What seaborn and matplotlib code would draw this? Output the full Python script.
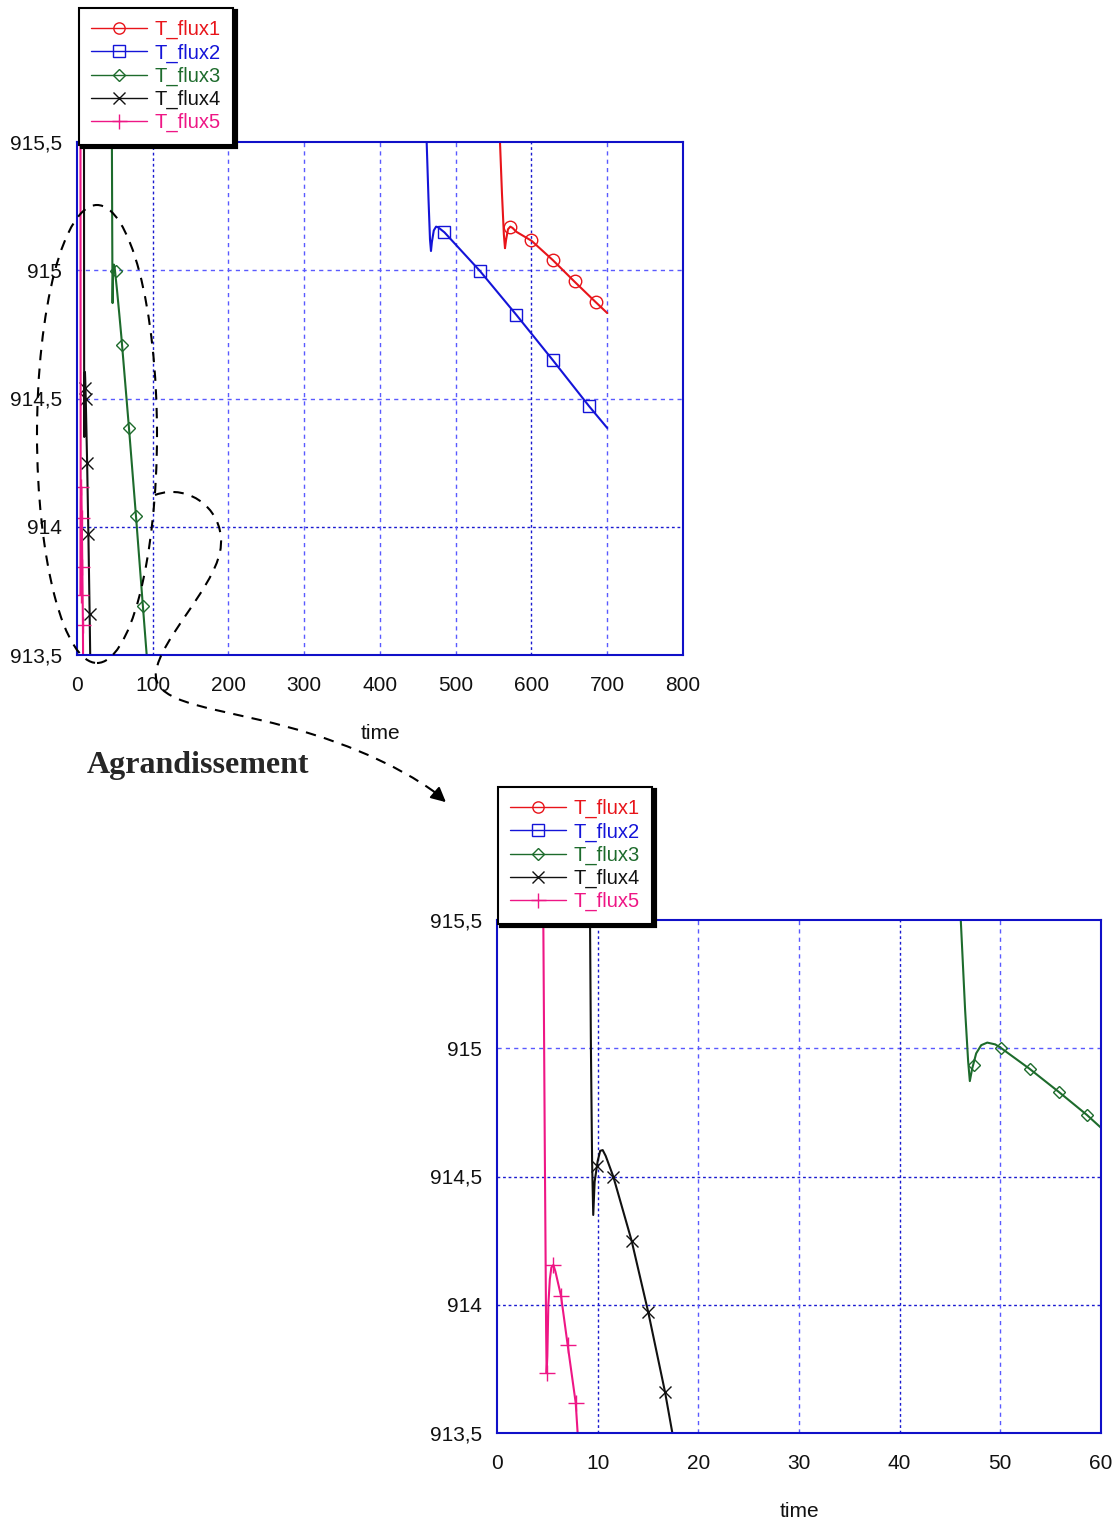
import matplotlib
matplotlib.use("Agg")
import matplotlib.pyplot as plt
import seaborn as sns
from matplotlib.lines import Line2D
from matplotlib.patches import Ellipse, PathPatch, FancyArrowPatch
from matplotlib.path import Path

# ---------------- data ----------------
labels = ["T_flux1", "T_flux2", "T_flux3", "T_flux4", "T_flux5"]
colors = ["#e8141a", "#1414d8", "#1d6b2c", "#111111", "#ee1685"]
marker_styles = ["o", "s", "D", "x", "+"]

# curves (time, temperature)
t1 = [558.0, 558.4, 561.0, 563.5, 565.0, 566.5, 569.0, 572.0, 575.0, 580.0, 600.0, 628.0, 657.0, 685.0, 700.0]
y1 = [915.6, 915.5, 915.3, 915.14, 915.086, 915.12, 915.16, 915.17, 915.165, 915.15, 915.115, 915.04, 914.955, 914.875, 914.833]

t2 = [461.3, 461.6, 464.0, 466.0, 467.3, 468.5, 471.0, 474.0, 476.5, 485.0, 532.0, 580.0, 628.0, 676.0, 700.0]
y2 = [915.6, 915.5, 915.28, 915.12, 915.075, 915.11, 915.155, 915.17, 915.168, 915.148, 914.997, 914.826, 914.65, 914.47, 914.385]

t3 = [46.0, 46.07, 46.5, 46.8, 46.97, 47.2, 47.6, 48.1, 48.7, 49.5, 50.1, 52.9, 55.8, 58.6, 60.0, 68.6, 77.9, 87.0, 92.0]
y3 = [915.6, 915.5, 915.15, 914.95, 914.872, 914.92, 914.98, 915.012, 915.022, 915.015, 915.0, 914.92, 914.83, 914.74, 914.69, 914.385, 914.04, 913.69, 913.5]

t4 = [9.2, 9.24, 9.33, 9.45, 9.56, 9.7, 10.0, 10.25, 10.5, 10.8, 11.55, 13.37, 15.03, 16.69, 17.42]
y4 = [915.6, 915.5, 915.0, 914.55, 914.35, 914.48, 914.56, 914.6, 914.603, 914.58, 914.5, 914.25, 913.97, 913.66, 913.5]

t5 = [4.55, 4.6, 4.75, 4.88, 4.93, 5.0, 5.1, 5.25, 5.4, 5.6, 5.8, 6.36, 7.02, 7.82, 8.01]
y5 = [915.6, 915.5, 914.6, 913.9, 913.734, 913.8, 914.0, 914.1, 914.145, 914.155, 914.13, 914.034, 913.843, 913.617, 913.5]

curves = [(t1, y1), (t2, y2), (t3, y3), (t4, y4), (t5, y5)]

# marker positions, overview plot
marks_full = [
    ([572, 599, 628, 657, 685], [915.17, 915.118, 915.04, 914.958, 914.876]),
    ([484.5, 532, 579.5, 628.4, 676], [915.149, 914.997, 914.826, 914.65, 914.47]),
    ([51.5, 59.4, 68.6, 77.9, 87.1], [914.997, 914.71, 914.385, 914.04, 913.69]),
    ([9.93, 11.55, 13.37, 15.03, 16.69], [914.54, 914.5, 914.25, 913.97, 913.66]),
    ([4.93, 5.6, 6.36, 7.02, 7.82], [913.734, 914.155, 914.034, 913.843, 913.617]),
]
# marker positions, zoomed plot
marks_zoom = [
    ([572, 599, 628, 657, 685], [915.17, 915.118, 915.04, 914.958, 914.876]),
    ([484.5, 532, 579.5, 628.4, 676], [915.149, 914.997, 914.826, 914.65, 914.47]),
    ([47.4, 50.1, 52.9, 55.8, 58.6], [914.935, 915.0, 914.92, 914.83, 914.74]),
    ([9.93, 11.55, 13.37, 15.03, 16.69], [914.54, 914.5, 914.25, 913.97, 913.66]),
    ([4.93, 5.6, 6.36, 7.02, 7.82], [913.734, 914.155, 914.034, 913.843, 913.617]),
]

yticks = [913.5, 914, 914.5, 915, 915.5]
ytick_labels = ["913,5", "914", "914,5", "915", "915,5"]
xticks_full = [0, 100, 200, 300, 400, 500, 600, 700, 800]
xticks_zoom = [0, 10, 20, 30, 40, 50, 60]

# ---------------- figure ----------------
sns.set_theme(style="white")
plt.rcParams["font.family"] = ["Liberation Sans", "DejaVu Sans"]

W, H = 1120, 1525
fig = plt.figure(figsize=(W / 100, H / 100), dpi=100)


def fx(x):
    return x / W


def fy(y):
    return 1 - y / H


ax1 = fig.add_axes([fx(77), fy(655), (683 - 77) / W, (655 - 142) / H])
ax2 = fig.add_axes([fx(497), fy(1433), (1101 - 497) / W, (1433 - 920) / H])

marker_size = {"o": 9, "s": 9, "D": 6.5, "x": 9, "+": 12}


def draw(ax, xticks, xmax, marks, dark_x, dark_y, legend_xy):
    light = "#5a5aff"
    for y in yticks[1:-1]:
        dark = y in dark_y
        ax.axhline(y, color="#1a1ad0" if dark else light, lw=1,
                   ls=(0, (2, 2)) if dark else (0, (3, 3)), zorder=0)
    for x in xticks[1:-1]:
        dark = x in dark_x
        ax.axvline(x, color="#1a1ad0" if dark else light, lw=1,
                   ls=(0, (2, 2)) if dark else (0, (3, 3)), zorder=0)

    for (t, y), (mt, my), c, m in zip(curves, marks, colors, marker_styles):
        sns.lineplot(x=t, y=y, sort=False, estimator=None, color=c, lw=1.5, ax=ax)
        ax.plot(mt, my, ls="none", marker=m, mfc="none", mec=c,
                ms=marker_size[m], mew=1)

    ax.set_xlim(0, xmax)
    ax.set_ylim(913.5, 915.5)
    ax.set_xticks(xticks)
    ax.set_xticklabels([str(v) for v in xticks])
    ax.set_yticks(yticks)
    ax.set_yticklabels(ytick_labels)
    ax.tick_params(axis="x", length=0, pad=15, labelsize=15, colors="#111111")
    ax.tick_params(axis="y", length=0, pad=11, labelsize=15, colors="#111111")
    ax.set_xlabel("time", fontsize=15, labelpad=21, color="#111111")
    ax.set_ylabel("")
    for s in ax.spines.values():
        s.set_color("#1010c8")
        s.set_linewidth(1.5)

    handles = [Line2D([0], [0], color=c, lw=1, marker=m, mfc="none", mec=c,
                      ms=marker_size[m] * 0.9, mew=1)
               for c, m in zip(colors, marker_styles)]
    leg = ax.legend(handles, labels, loc="upper left",
                    bbox_to_anchor=(fx(legend_xy[0]), fy(legend_xy[1])),
                    bbox_transform=fig.transFigure, fontsize=14.5,
                    frameon=True, fancybox=False, edgecolor="black",
                    framealpha=1, borderaxespad=0, borderpad=0.6,
                    handlelength=2.8, handletextpad=0.35, labelspacing=0.2,
                    labelcolor="linecolor",
                    shadow={"color": "black", "alpha": 1, "linewidth": 3})
    leg.get_frame().set_linewidth(1.5)
    leg.set_zorder(10)


draw(ax1, xticks_full, 800, marks_full, dark_x=[100, 600], dark_y=[914], legend_xy=(79, 8))
draw(ax2, xticks_zoom, 60, marks_zoom, dark_x=[10, 40], dark_y=[914, 914.5], legend_xy=(498, 787))

# ---------------- hand-drawn annotation ----------------
ell = Ellipse((fx(97), fy(434)), width=120 / W, height=458 / H,
              transform=fig.transFigure, fill=False, ec="black", lw=1.5,
              ls=(0, (5, 4)))
fig.add_artist(ell)

verts = [(155, 495),
         (190, 482), (228, 512), (220, 552),
         (212, 590), (160, 640), (156, 672),
         (152, 700), (200, 706), (260, 720),
         (330, 736), (395, 762), (440, 796)]
codes = [Path.MOVETO] + [Path.CURVE4] * 12
path = Path([(fx(x), fy(y)) for x, y in verts], codes)
fig.add_artist(PathPatch(path, transform=fig.transFigure, fill=False,
                         ec="black", lw=1.5, ls=(0, (5, 4))))
fig.add_artist(FancyArrowPatch(
    (fx(432), fy(790)), (fx(448), fy(804)), transform=fig.transFigure,
    arrowstyle="-|>", mutation_scale=22, color="black", lw=1.5))

fig.text(fx(87), fy(765), "Agrandissement", ha="left", va="center",
         fontsize=23, fontweight="bold",
         family=["Liberation Serif", "DejaVu Serif"])

fig.savefig("out.png", dpi=100)
